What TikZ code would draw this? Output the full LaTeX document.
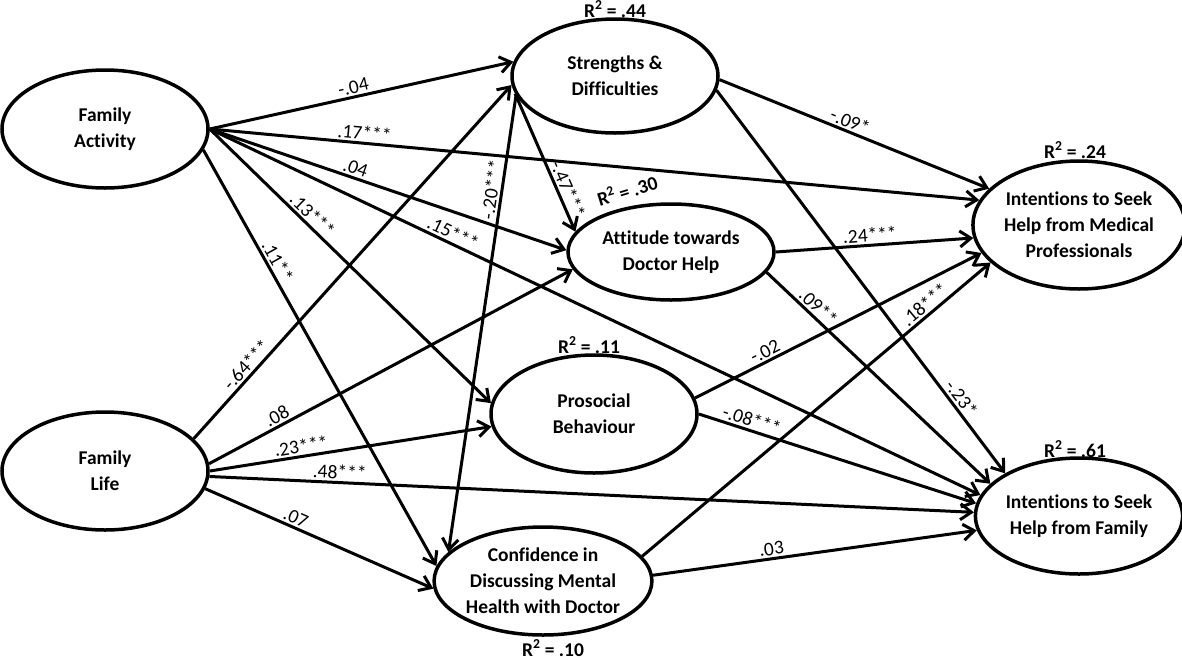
\documentclass[tikz,border=0pt]{standalone}
\usepackage{fontspec}
\setmainfont{Carlito}[Ligatures=NoCommon]
\usetikzlibrary{arrows.meta,shapes.geometric}

\begin{document}
\begin{tikzpicture}[x=1pt, y=-1pt,
   latent/.style={draw, ellipse, line width=3.5pt, inner sep=0pt, align=center,
                  minimum width=206pt, font=\fontsize{19.5}{26}\selectfont\bfseries},
   effect/.style={->, line width=3pt},
   coef/.style={font=\fontsize{19.5}{22}\selectfont, sloped, above, inner sep=2pt},
   rsq/.style={font=\fontsize{19.5}{22}\selectfont\bfseries},
   >={Straight Barb[length=11pt,width=16pt]}]
  \useasboundingbox (0,0) rectangle (1182,659);
  % predictors
  \node[latent, minimum height=118pt] (fa) at (105,129) {Family\\Activity};
  \node[latent, minimum height=118pt] (fl) at (105,471) {Family\\Life};
  % mediators
  \node[latent, minimum height=114pt] (sd) at (615,76) {Strengths \&\\Difficulties};
  \node[latent, minimum height=96pt] (atd) at (671,252) {Attitude towards\\Doctor Help};
  \node[latent, minimum height=118pt] (pb) at (594,414) {Prosocial\\Behaviour};
  \node[latent, minimum height=108pt] (cd) at (543,581) {Confidence in\\Discussing Mental\\Health with Doctor};
  % outcomes
  \node[latent, minimum height=128pt] (im) at (1079,225) {Intentions to Seek\\Help from Medical\\Professionals};
  \node[latent, minimum height=116pt] (if) at (1079,516) {Intentions to Seek\\Help from Family};
  % explained variance
  \node[rsq] (rsd) at (615,9) {R\textsuperscript{2} = .44};
  \node[rsq, rotate=17] (ratd) at (627,190) {R\textsuperscript{2} = .30};
  \node[rsq] (rpb) at (589,345) {R\textsuperscript{2} = .11};
  \node[rsq] (rcd) at (553,648) {R\textsuperscript{2} = .10};
  \node[rsq] (rim) at (1075,150) {R\textsuperscript{2} = .24};
  \node[rsq] (rif) at (1075,449) {R\textsuperscript{2} = .61};
  % paths from family activity
  \draw[effect] (fa.east) -- node[coef, pos=.48]{-.04} (sd.172);
  \draw[effect] (fa.east) -- node[coef, pos=.20]{.17***} (im.166);
  \draw[effect] (fa.east) -- node[coef, pos=.40]{.04} (atd.179);
  \draw[effect] (fa.east) -- node[coef, pos=.31]{.15***} (if.168);
  \draw[effect] (fa.east) -- node[coef, pos=.34]{.13***} (pb.174);
  \draw[effect] (fa.-12) -- node[coef, pos=.28]{.11**} (cd.172);
  % paths from family life
  \draw[effect] (fl.20) -- node[coef, pos=.19]{-.64***} (sd.185);
  \draw[effect] (fl.4) -- node[coef, pos=.20]{.08} (atd.190);
  \draw[effect] (fl.east) -- node[coef, pos=.33]{.23***} (pb.187);
  \draw[effect] (fl.-3) -- node[coef, pos=.17]{.48***} (if.178);
  \draw[effect] (fl.-10) -- node[coef, pos=.38]{.07} (cd.184);
  % paths from mediators
  \draw[effect] (sd.190) -- node[coef, pos=.72]{-.47***} (atd.168);
  \draw[effect] (sd.191) -- node[coef, pos=.21]{-.20***} (cd.163);
  \draw[effect] (sd.-2) -- node[coef, pos=.47]{-.09*} (im.158);
  \draw[effect] (sd.-8) -- node[coef, pos=.82]{-.23*} (if.150);
  \draw[effect] (atd.east) -- node[coef, pos=.48]{.24***} (im.187);
  \draw[effect] (atd.-12) -- node[coef, pos=.20]{.09**} (if.160);
  \draw[effect] (pb.9) -- node[coef, pos=.26]{-.02} (im.196);
  \draw[effect] (pb.east) -- node[coef, pos=.18]{-.08***} (if.173);
  \draw[effect] (cd.14) -- node[coef, pos=.83]{.18***} (im.203);
  \draw[effect] (cd.3) -- node[coef, pos=.37]{.03} (if.188);
\end{tikzpicture}
\end{document}
